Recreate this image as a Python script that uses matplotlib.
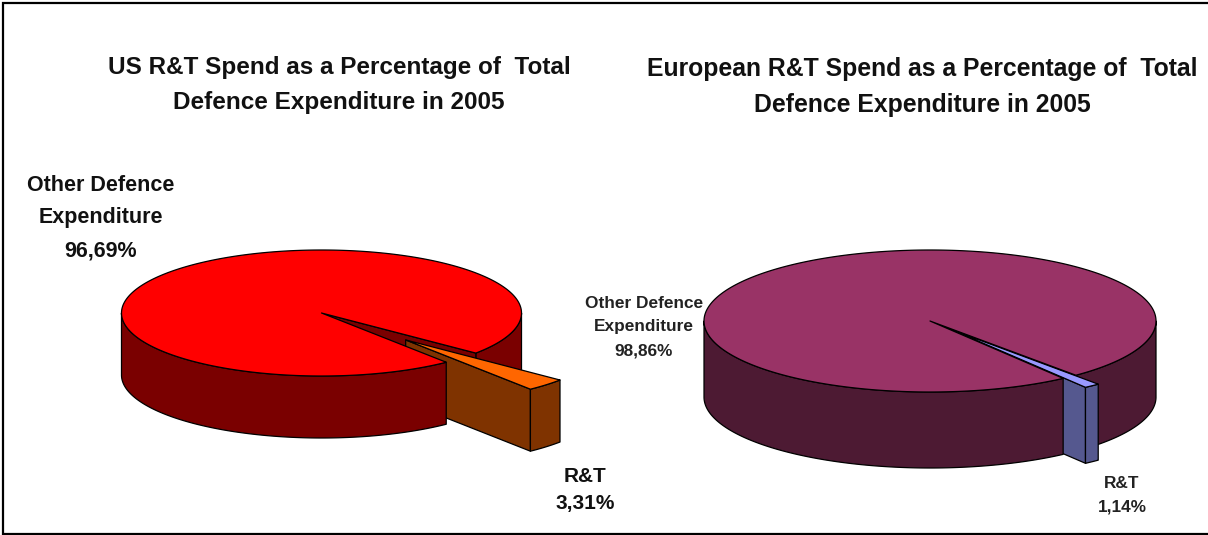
import numpy as np
import matplotlib
matplotlib.use('Agg')
import matplotlib.pyplot as plt

plt.rcParams['font.family'] = ['Liberation Sans', 'DejaVu Sans']

categories = ['Other Defence\nExpenditure', 'R&T']
us_shares = [96.69, 3.31]
eu_shares = [98.86, 1.14]
us_title = 'US R&T Spend as a Percentage of  Total\nDefence Expenditure in 2005'
eu_title = 'European R&T Spend as a Percentage of  Total\nDefence Expenditure in 2005'


def pct_label(name, value):
    return name + '\n' + ('%.2f%%' % value).replace('.', ',')


def rim(cx, cy, rx, ry, a0, a1, n=200):
    t = np.radians(np.linspace(a0, a1, n))
    return cx + rx * np.cos(t), cy - ry * np.sin(t)


def draw_pie(ax, shares, cx, cy, rx, ry, depth, start, explode, colors):
    """
    Fake 3D pie, the small slice is pulled out along its middle angle.
    start is the upper edge of the small slice in degrees, on the ellipse
    """
    top, wall, s_top, s_wall = colors
    span = shares[1] / sum(shares) * 360
    a_hi = start
    a_lo = start - span
    a_mid = np.radians((a_hi + a_lo) / 2)
    line = dict(edgecolor='black', linewidth=0.9, joinstyle='round')

    # back wall on the right of the gap and the cut face seen inside the gap
    x, y = rim(cx, cy, rx, ry, 0, a_hi)
    ax.fill(np.r_[x, x[::-1]], np.r_[y, y[::-1] + depth], facecolor=wall, **line)
    ax.fill([cx, x[-1], x[-1], cx], [cy, y[-1], y[-1] + depth, cy + depth],
            facecolor=wall, **line)

    # pulled out slice
    ox = cx + explode * rx * np.cos(a_mid)
    oy = cy - explode * ry * np.sin(a_mid)
    sx, sy = rim(ox, oy, rx, ry, a_lo, a_hi, 30)
    ax.fill([ox, sx[0], sx[0], ox], [oy, sy[0], sy[0] + depth, oy + depth],
            facecolor=s_wall, **line)
    ax.fill(np.r_[sx, sx[::-1]], np.r_[sy, sy[::-1] + depth], facecolor=s_wall, **line)
    ax.fill(np.r_[ox, sx], np.r_[oy, sy], facecolor=s_top, **line)

    # front wall and top of the big slice go over the small one
    x, y = rim(cx, cy, rx, ry, 180, 360 + a_lo)
    ax.fill(np.r_[x, x[::-1]], np.r_[y, y[::-1] + depth], facecolor=wall, **line)
    x, y = rim(cx, cy, rx, ry, a_hi, 360 + a_lo, 500)
    ax.fill(np.r_[cx, x], np.r_[cy, y], facecolor=top, **line)


fig = plt.figure(figsize=(12.08, 5.35), dpi=100)
ax = fig.add_axes([0, 0, 1, 1])
ax.set_xlim(0, 1208)
ax.set_ylim(535, 0)
ax.axis('off')

draw_pie(ax, us_shares, 321.5, 313, 200, 63, 62, -39.5, 0.60,
         ('#FF0000', '#7A0000', '#FF6600', '#7F3300'))
draw_pie(ax, eu_shares, 930, 321, 226, 71, 76, -49.8, 0.16,
         ('#993366', '#4D1A33', '#9999FF', '#55588F'))

# frame has no right side in the original
ax.plot([1208, 3, 3, 1208], [3, 3, 534, 534], color='black', linewidth=1.6,
        solid_joinstyle='miter', solid_capstyle='butt', clip_on=False)

ax.text(339, 85, us_title, ha='center', va='center', fontsize=17.5, fontweight='bold',
        linespacing=1.65, color='#111111')
ax.text(922, 87, eu_title, ha='center', va='center', fontsize=17.8, fontweight='bold',
        linespacing=1.62, color='#111111')

ax.text(101, 218, pct_label(categories[0], us_shares[0]), ha='center', va='center',
        fontsize=15.5, fontweight='bold', linespacing=1.72, color='#111111')
ax.text(585, 490, pct_label(categories[1], us_shares[1]), ha='center', va='center',
        fontsize=15, fontweight='bold', linespacing=1.58, color='#111111')
ax.text(644, 327, pct_label(categories[0], eu_shares[0]), ha='center', va='center',
        fontsize=12.4, fontweight='bold', linespacing=1.72, color='#222222')
ax.text(1122, 495, pct_label(categories[1], eu_shares[1]), ha='center', va='center',
        fontsize=12.4, fontweight='bold', linespacing=1.72, color='#222222')

fig.savefig('out.png', dpi=100)
